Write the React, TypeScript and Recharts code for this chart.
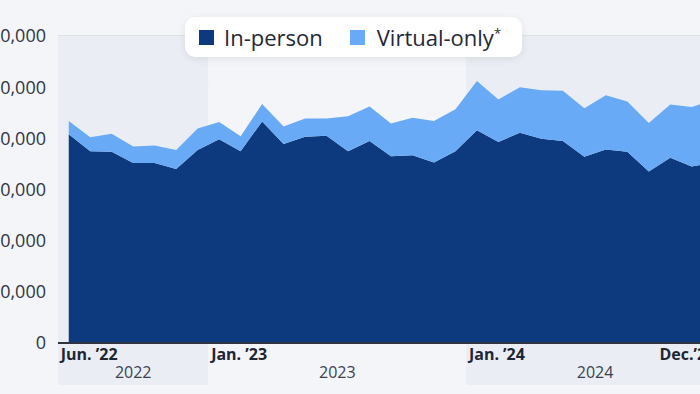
import React from 'react';
import { AreaChart, Area, XAxis, YAxis, CartesianGrid, ReferenceArea } from 'recharts';

// monthly counts, Jun 2022 – Dec 2024
const MONTHS = [
  'Jun 22', 'Jul 22', 'Aug 22', 'Sep 22', 'Oct 22', 'Nov 22', 'Dec 22',
  'Jan 23', 'Feb 23', 'Mar 23', 'Apr 23', 'May 23', 'Jun 23', 'Jul 23', 'Aug 23', 'Sep 23', 'Oct 23', 'Nov 23', 'Dec 23',
  'Jan 24', 'Feb 24', 'Mar 24', 'Apr 24', 'May 24', 'Jun 24', 'Jul 24', 'Aug 24', 'Sep 24', 'Oct 24', 'Nov 24', 'Dec 24',
];
const IN_PERSON = [
  40800, 37500, 37400, 35200, 35200, 34000, 37700,
  39800, 37500, 43300, 38900, 40300, 40500, 37500, 39500, 36500, 36700, 35300, 37500,
  41600, 39300, 41100, 39900, 39500, 36400, 37800, 37400, 33500, 36200, 34500, 35200,
];
const VIRTUAL_ONLY = [
  2600, 2700, 3500, 3200, 3400, 3700, 4200,
  3400, 2900, 3400, 3400, 3600, 3400, 6800, 6700, 6400, 7300, 8100, 8200,
  9600, 8300, 8900, 9500, 9800, 9500, 10600, 9800, 9500, 10400, 11600, 12400,
];
const Y_TICKS = [0, 10000, 20000, 30000, 40000, 50000, 60000];
const X_LABELS = { 0: 'Jun. ’22', 7: 'Jan. ’23', 19: 'Jan. ’24', 30: 'Dec.’24' };
const YEARS = ['2022', '2023', '2024'];

const DARK = '#0d3a7e';
const LIGHT = '#68aaf5';
const BG = '#f3f5f9';
const BAND = '#eaeef4';
const FONT = "'Open Sans', sans-serif";

const data = MONTHS.map((m, i) => ({
  i,
  month: m,
  inPerson: IN_PERSON[i],
  virtualOnly: VIRTUAL_ONLY[i],
}));

const bands = YEARS.map((yr, k) => {
  const idx = MONTHS.map((m, i) => (m.endsWith(yr.slice(2)) ? i : -1)).filter((i) => i >= 0);
  return { year: yr, x1: idx[0] - 0.5, x2: idx[idx.length - 1] + 0.5, shaded: k % 2 === 0 };
});

const XTick = ({ x, y, payload }) => {
  const last = payload.value === MONTHS.length - 1;
  return (
    <text
      x={last ? x + 2 : x - 8}
      y={y + 15}
      textAnchor={last ? 'end' : 'start'}
      fontFamily={FONT}
      fontWeight={700}
      fontSize={16}
      fill="#1e2633"
    >
      {X_LABELS[payload.value]}
    </text>
  );
};

export default function App() {
  return (
    <div style={{ position: 'fixed', left: 0, top: 0, width: 700, height: 394, overflow: 'hidden', background: BG }}>
      <AreaChart width={730} height={394} data={data} margin={{ top: 36, right: 6, left: 0, bottom: 0 }}>
        {bands.map((b) => (
          <ReferenceArea
            key={b.year}
            x1={b.x1}
            x2={b.x2}
            y1={-8200}
            y2={60000}
            ifOverflow="visible"
            fill={b.shaded ? BAND : BG}
            fillOpacity={1}
            stroke="none"
            label={{ value: b.year, position: 'insideBottom', offset: 7, fill: '#3a4250', fontSize: 16, fontFamily: FONT }}
          />
        ))}
        <CartesianGrid vertical={false} stroke="#c9cdd4" />
        <XAxis
          type="number"
          dataKey="i"
          domain={[-0.5, MONTHS.length - 0.5]}
          ticks={[0, 7, 19, 30]}
          tick={<XTick />}
          tickLine={false}
          tickSize={0}
          height={51}
          axisLine={{ stroke: '#2e3440', strokeWidth: 2 }}
        />
        <YAxis
          width={58}
          domain={[0, 60000]}
          ticks={Y_TICKS}
          tickFormatter={(v) => v.toLocaleString('en-US')}
          tickLine={false}
          axisLine={false}
          tickSize={0}
          tickMargin={12}
          tick={{ fill: '#2f3542', fontSize: 18, fontFamily: FONT }}
        />
        <Area
          type="linear"
          dataKey="inPerson"
          stackId="a"
          stroke="none"
          fill={DARK}
          fillOpacity={1}
          isAnimationActive={false}
          activeDot={false}
        />
        <Area
          type="linear"
          dataKey="virtualOnly"
          stackId="a"
          stroke="none"
          fill={LIGHT}
          fillOpacity={1}
          isAnimationActive={false}
          activeDot={false}
        />
      </AreaChart>

      <div style={{
        position: 'absolute', left: 185, top: 17, width: 337, height: 40, boxSizing: 'border-box',
        background: '#fff', borderRadius: 10, boxShadow: '0 2px 8px rgba(0,0,0,0.08)',
        display: 'flex', alignItems: 'center', paddingLeft: 14, fontFamily: FONT, fontSize: 22, color: '#1f2837',
      }}>
        <span style={{ width: 15, height: 15, background: DARK, marginRight: 10 }} />
        <span>In-person</span>
        <span style={{ width: 15, height: 15, background: LIGHT, marginLeft: 27, marginRight: 12 }} />
        <span>Virtual-only<sup style={{ fontSize: 13 }}>*</sup></span>
      </div>
    </div>
  );
}
